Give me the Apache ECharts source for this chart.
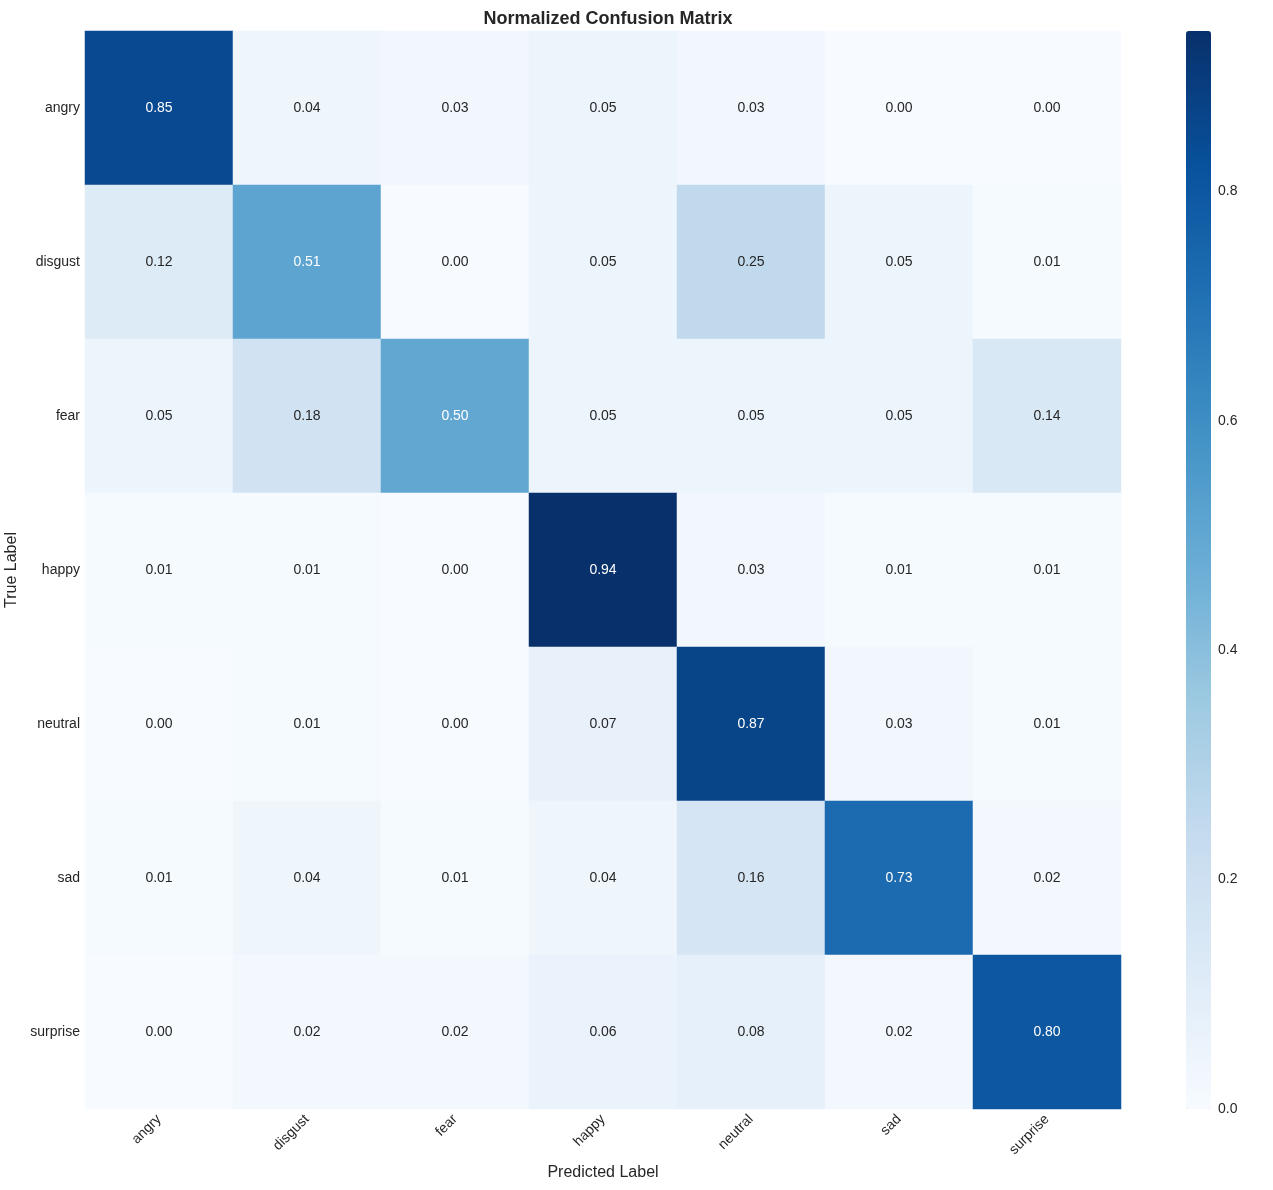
<!DOCTYPE html>
<html>
<head>
<meta charset="utf-8">
<script src="https://cdn.jsdelivr.net/npm/echarts@6/dist/echarts.min.js"></script>
<style>
  html, body { margin: 0; padding: 0; background: #fff; }
  #main { width: 1273px; height: 1190px; }
</style>
</head>
<body>
<div id="main"></div>
<script>
var labels = ['angry', 'disgust', 'fear', 'happy', 'neutral', 'sad', 'surprise'];
// rows = true label, cols = predicted label
var matrix = [
  [0.85, 0.04, 0.03, 0.05, 0.03, 0.00, 0.00],
  [0.12, 0.51, 0.00, 0.05, 0.25, 0.05, 0.01],
  [0.05, 0.18, 0.50, 0.05, 0.05, 0.05, 0.14],
  [0.01, 0.01, 0.00, 0.94, 0.03, 0.01, 0.01],
  [0.00, 0.01, 0.00, 0.07, 0.87, 0.03, 0.01],
  [0.01, 0.04, 0.01, 0.04, 0.16, 0.73, 0.02],
  [0.00, 0.02, 0.02, 0.06, 0.08, 0.02, 0.80]
];
var colorbarTicks = [0, 0.2, 0.4, 0.6, 0.8];

var blues = ['#f7fbff', '#deebf7', '#c6dbef', '#9ecae1', '#6baed6',
             '#4292c6', '#2171b5', '#08519c', '#08306b'];
var vmax = 0.94;
var font = 'Liberation Sans, Arial, sans-serif';

var cells = [];
matrix.forEach(function (row, r) {
  row.forEach(function (v, c) {
    cells.push({
      value: [c, r, v],
      label: { color: v > 0.4 ? '#ffffff' : '#262626' }
    });
  });
});

var myChart = echarts.init(document.getElementById('main'));
var option = {
  backgroundColor: '#ffffff',
  animation: false,
  textStyle: { fontFamily: font },
  title: {
    text: 'Normalized Confusion Matrix',
    left: 603,
    top: 5,
    textAlign: 'center',
    textStyle: { fontSize: 18, fontWeight: 'bold', color: '#262626', fontFamily: font }
  },
  grid: [
    { left: 85, top: 31, width: 1036, height: 1078, outerBoundsMode: 'none', containLabel: false },
    { left: 1186, top: 31, width: 25, height: 1078, outerBoundsMode: 'none', containLabel: false }
  ],
  xAxis: [
    {
      type: 'category', gridIndex: 0, data: labels,
      name: 'Predicted Label', nameLocation: 'middle', nameGap: 55,
      nameTextStyle: { fontSize: 16, color: '#262626' },
      axisLine: { show: false }, axisTick: { show: false },
      splitLine: { show: false },
      axisLabel: { rotate: 45, fontSize: 14, color: '#262626', margin: 8 }
    },
    { type: 'value', gridIndex: 1, show: false }
  ],
  yAxis: [
    {
      type: 'category', gridIndex: 0, data: labels, inverse: true,
      name: 'True Label', nameLocation: 'middle', nameGap: 54,
      nameTextStyle: { fontSize: 16, color: '#262626' },
      axisLine: { show: false }, axisTick: { show: false },
      splitLine: { show: false },
      axisLabel: { fontSize: 14, color: '#262626', margin: 5 }
    },
    {
      type: 'value', gridIndex: 1, position: 'right', min: 0, max: vmax,
      interval: 0.2,
      axisLine: { show: false }, axisTick: { show: false },
      splitLine: { show: false },
      axisLabel: {
        fontSize: 14, color: '#262626', margin: 7,
        formatter: function (v) {
          return colorbarTicks.some(function (t) { return Math.abs(t - v) < 1e-6; }) ? v.toFixed(1) : '';
        }
      }
    }
  ],
  visualMap: {
    type: 'continuous',
    min: 0, max: vmax,
    seriesIndex: 0,
    calculable: false,
    left: 1186, top: 31,
    itemWidth: 25, itemHeight: 1078,
    padding: 0,
    text: null,
    showLabel: false,
    inRange: { color: blues }
  },
  series: [
    {
      type: 'heatmap',
      xAxisIndex: 0, yAxisIndex: 0,
      data: cells,
      label: {
        show: true, fontSize: 14, fontFamily: font,
        formatter: function (p) { return p.value[2].toFixed(2); }
      },
      itemStyle: { borderWidth: 0 },
      emphasis: { disabled: true }
    }
  ]
};
myChart.setOption(option);
</script>
</body>
</html>
